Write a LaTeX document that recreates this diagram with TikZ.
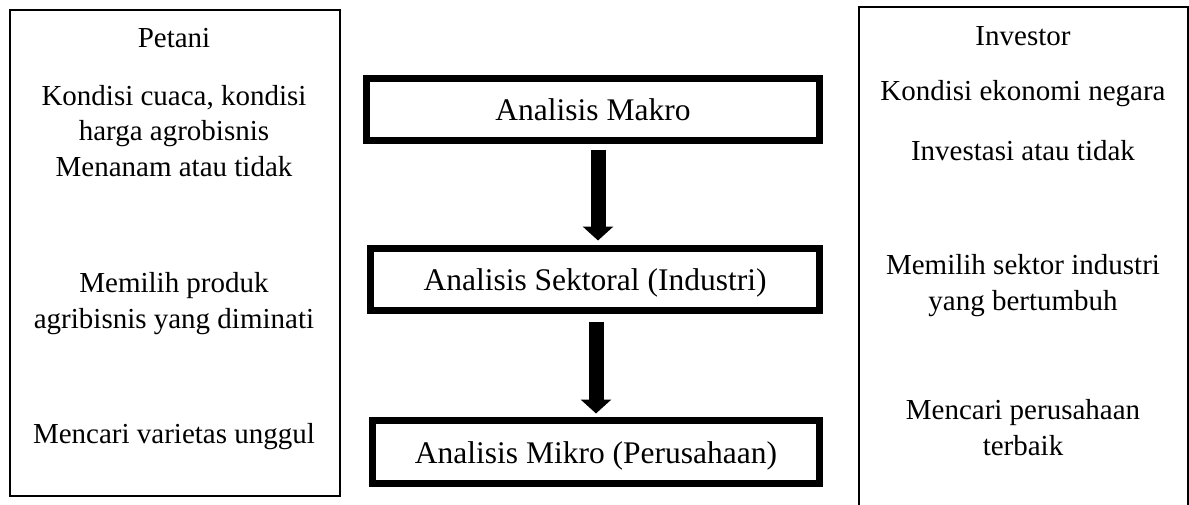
\documentclass[tikz,border=0pt]{standalone}
\usepackage{fontspec}
\setmainfont{Liberation Serif}
\usetikzlibrary{arrows.meta}
\begin{document}
\begin{tikzpicture}[x=1pt,y=-1pt,
  sidebox/.style={draw=black, line width=2pt, inner sep=0pt, anchor=center},
  mainbox/.style={draw=black, line width=7pt, inner sep=0pt, anchor=center,
     minimum height=62pt, font=\fontsize{31.5}{38}\selectfont, text height=22pt, text depth=0pt},
  sidetext/.style={align=center, inner sep=0pt, anchor=base, font=\fontsize{29}{35.5}\selectfont},
  bigarrow/.style={line width=15pt, -{Triangle[width=30pt,length=14pt]}}]
\useasboundingbox (0,0) rectangle (1189,504);
% side boxes
\node[sidebox, minimum width=330pt, minimum height=486.5pt] (L) at (174.5,252.75) {};
\node[sidebox, minimum width=329pt, minimum height=520pt] (R) at (1023.5,267) {};
% left texts (anchor base = last line baseline)
\node[sidetext] (petani) at (174,47) {Petani};
\node[sidetext] (l1) at (174,176) {Kondisi cuaca, kondisi\\harga agrobisnis\\Menanam atau tidak};
\node[sidetext] (l2) at (174,328) {Memilih produk\\agribisnis yang diminati};
\node[sidetext] (l3) at (174,443) {Mencari varietas unggul};
% right texts
\node[sidetext] (investor) at (1023,45) {Investor};
\node[sidetext] (r1) at (1023,100) {Kondisi ekonomi negara};
\node[sidetext] (r1b) at (1023,160) {Investasi atau tidak};
\node[sidetext] (r2) at (1023,310) {Memilih sektor industri\\yang bertumbuh};
\node[sidetext] (r3) at (1023,455) {Mencari perusahaan\\terbaik};
% main boxes
\node[mainbox, minimum width=453pt] (m1) at (593,109.5) {Analisis Makro};
\node[mainbox, minimum width=449pt] (m2) at (595,279.5) {Analisis Sektoral (Industri)};
\node[mainbox, minimum width=447pt, minimum height=63pt] (m3) at (596,452) {Analisis Mikro (Perusahaan)};
% arrows
\coordinate (a1) at (598,0);
\coordinate (a2) at (596,0);
\draw[bigarrow, shorten <=5.5pt, shorten >=4.5pt] (a1 |- m1.south) -- (a1 |- m2.north);
\draw[bigarrow, shorten <=7.5pt, shorten >=3.5pt] (a2 |- m2.south) -- (a2 |- m3.north);
\end{tikzpicture}
\end{document}
